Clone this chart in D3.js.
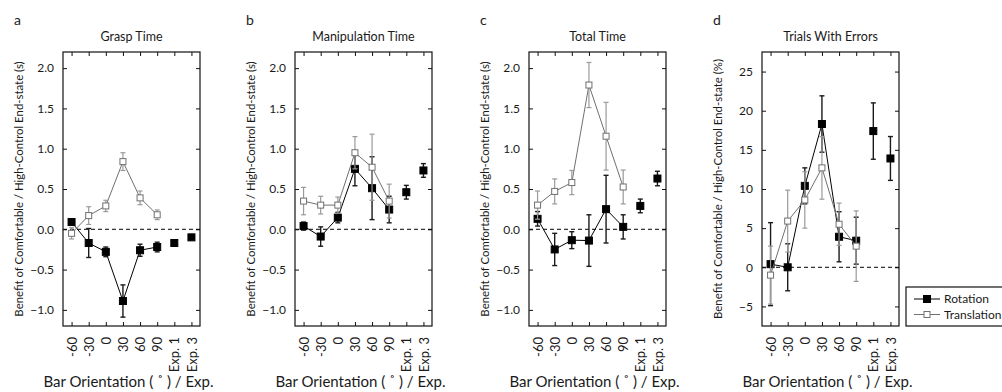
<!DOCTYPE html>
<html lang="en">
<head>
	<meta charset="utf-8">
	<title>Comfortable vs High-Control End-state</title>
	<script type="text/javascript" src="https://cdn.jsdelivr.net/npm/d3@7"></script>
	<style>
		body { margin: 0; background: white; }
		svg { display: block; overflow: hidden; }
		text { font-family: Lato, "Open Sans", sans-serif; font-weight: normal; fill: #1a1a1a; }
		.tick line { stroke: #111; }
	</style>
</head>

<body>
	<script type="text/javascript">
		var w = 1002;
		var h = 392;

		// x categories (bar orientation in degrees, then experiment)
		var categories = ["-60", "-30", "0", "30", "60", "90", "Exp. 1", "Exp. 3"];
		var timeTicks = [-1.0, -0.5, 0.0, 0.5, 1.0, 1.5, 2.0];
		var errorTicks = [-5, 0, 5, 10, 15, 20, 25];

		// a - grasp time
		var graspRot = [0.09, -0.17, -0.28, -0.89, -0.26, -0.22, -0.17, -0.10];
		var graspRotErr = [0.04, 0.18, 0.06, 0.20, 0.075, 0.06, 0.01, 0.01];
		var graspTrans = [-0.05, 0.17, 0.29, 0.84, 0.39, 0.18];
		var graspTransErr = [0.07, 0.11, 0.07, 0.11, 0.085, 0.06];

		// b - manipulation time
		var manipRot = [0.04, -0.09, 0.145, 0.75, 0.51, 0.245, 0.46, 0.73];
		var manipRotErr = [0.05, 0.12, 0.065, 0.21, 0.39, 0.165, 0.085, 0.085];
		var manipTrans = [0.35, 0.30, 0.30, 0.95, 0.77, 0.35];
		var manipTransErr = [0.17, 0.11, 0.10, 0.20, 0.41, 0.21];

		// c - total time
		var totalRot = [0.13, -0.25, -0.135, -0.14, 0.25, 0.03, 0.29, 0.63];
		var totalRotErr = [0.09, 0.20, 0.105, 0.32, 0.42, 0.15, 0.085, 0.09];
		var totalTrans = [0.30, 0.47, 0.58, 1.79, 1.155, 0.525];
		var totalTransErr = [0.175, 0.155, 0.15, 0.28, 0.42, 0.21];

		// d - trials with errors (%)
		var errRot = [0.4, 0.0, 10.4, 18.3, 3.9, 3.4, 17.4, 13.9];
		var errRotErr = [5.3, 3.0, 2.3, 3.6, 3.2, 3.0, 3.6, 2.8];
		var errTrans = [-1.0, 5.9, 8.6, 12.7, 5.5, 2.7];
		var errTransErr = [3.7, 3.95, 3.6, 4.0, 2.7, 4.5];

		var panels = [
			{ letter: "a", title: "Grasp Time", unit: "(s)", left: 63, domain: [-1.2, 2.2], ticks: timeTicks, fmt: d3.format(".1f"),
			  rot: graspRot, rotErr: graspRotErr, trans: graspTrans, transErr: graspTransErr },
			{ letter: "b", title: "Manipulation Time", unit: "(s)", left: 295, domain: [-1.2, 2.2], ticks: timeTicks, fmt: d3.format(".1f"),
			  rot: manipRot, rotErr: manipRotErr, trans: manipTrans, transErr: manipTransErr },
			{ letter: "c", title: "Total Time", unit: "(s)", left: 529, domain: [-1.2, 2.2], ticks: timeTicks, fmt: d3.format(".1f"),
			  rot: totalRot, rotErr: totalRotErr, trans: totalTrans, transErr: totalTransErr },
			{ letter: "d", title: "Trials With Errors", unit: "(%)", left: 762, domain: [-7.5, 27.5], ticks: errorTicks, fmt: d3.format("d"),
			  rot: errRot, rotErr: errRotErr, trans: errTrans, transErr: errTransErr }
		];

		var plotTop = 52;
		var pw = 137;
		var ph = 274;

		var rotColor = "#000";
		var transColor = "#707070";
		var transErrColor = "#9a9a9a";

		var svg = d3.select("body")
					.append("svg")
					.attr("width", w)
					.attr("height", h);

		var drawSeries = function(g, x, y, vals, errs, opts) {
			var pts = vals.map(function(v, i) { return { c: categories[i], v: v, e: errs[i], i: i }; });
			// only the six orientations are joined by a line
			var linePts = pts.filter(function(d) { return d.i < 6; });

			g.append("path")
			 .datum(linePts)
			 .attr("fill", "none")
			 .attr("stroke", opts.line)
			 .attr("stroke-width", 1)
			 .attr("d", d3.line().x(function(d) { return x(d.c); }).y(function(d) { return y(d.v); }));

			var eb = g.selectAll(null).data(pts).enter().append("g")
					  .attr("stroke", opts.err)
					  .attr("stroke-width", opts.errWidth);
			eb.append("line")
			  .attr("x1", function(d) { return x(d.c); }).attr("x2", function(d) { return x(d.c); })
			  .attr("y1", function(d) { return y(d.v - d.e); }).attr("y2", function(d) { return y(d.v + d.e); });
			eb.append("line")
			  .attr("x1", function(d) { return x(d.c) - 2.5; }).attr("x2", function(d) { return x(d.c) + 2.5; })
			  .attr("y1", function(d) { return y(d.v + d.e); }).attr("y2", function(d) { return y(d.v + d.e); });
			eb.append("line")
			  .attr("x1", function(d) { return x(d.c) - 2.5; }).attr("x2", function(d) { return x(d.c) + 2.5; })
			  .attr("y1", function(d) { return y(d.v - d.e); }).attr("y2", function(d) { return y(d.v - d.e); });

			g.selectAll(null).data(pts).enter().append("rect")
			 .attr("x", function(d) { return x(d.c) - opts.size / 2; })
			 .attr("y", function(d) { return y(d.v) - opts.size / 2; })
			 .attr("width", opts.size)
			 .attr("height", opts.size)
			 .attr("fill", opts.fill)
			 .attr("stroke", opts.stroke)
			 .attr("stroke-width", 1);
		};

		panels.forEach(function(p) {
			var g = svg.append("g").attr("transform", "translate(" + p.left + "," + plotTop + ")");

			var x = d3.scalePoint().domain(categories).range([0, pw]).padding(0.5);
			var y = d3.scaleLinear().domain(p.domain).range([ph, 0]);

			// axes, ticks point inward on all four sides
			var left = g.append("g")
						.call(d3.axisLeft(y).tickValues(p.ticks).tickSize(-4).tickPadding(9).tickFormat(p.fmt));
			left.selectAll("text").style("font-size", "12px");

			g.append("g").attr("transform", "translate(" + pw + ",0)")
			 .call(d3.axisRight(y).tickValues(p.ticks).tickSize(-4).tickFormat(""));

			g.append("g")
			 .call(d3.axisTop(x).tickSize(-4).tickFormat(""));

			var bottom = g.append("g").attr("transform", "translate(0," + ph + ")")
						  .call(d3.axisBottom(x).tickSize(-4));
			bottom.selectAll("text")
				  .attr("transform", "rotate(-90)")
				  .attr("x", -11).attr("y", 0)
				  .attr("dy", "0.35em")
				  .attr("text-anchor", "end")
				  .style("font-size", "13px");

			g.selectAll(".domain").remove();
			g.selectAll(".tick text").attr("fill", "#1a1a1a");

			// zero reference line
			g.append("line")
			 .attr("x1", 0).attr("x2", pw)
			 .attr("y1", y(0)).attr("y2", y(0))
			 .attr("stroke", "#000")
			 .attr("stroke-dasharray", "4,3");

			drawSeries(g, x, y, p.rot, p.rotErr,
				{ line: rotColor, err: "#1a1a1a", errWidth: 1.4, size: 7, fill: rotColor, stroke: rotColor });
			drawSeries(g, x, y, p.trans, p.transErr,
				{ line: transColor, err: transErrColor, errWidth: 1.2, size: 6, fill: "#fff", stroke: transColor });

			// frame
			g.append("rect")
			 .attr("width", pw).attr("height", ph)
			 .attr("fill", "none")
			 .attr("stroke", "#111")
			 .attr("stroke-width", 1.2);

			// labels
			g.append("text")
			 .attr("x", -49).attr("y", -27)
			 .style("font-size", "14px")
			 .text(p.letter);

			g.append("text")
			 .attr("x", pw / 2).attr("y", -11)
			 .attr("text-anchor", "middle")
			 .style("font-size", "12.5px")
			 .text(p.title);

			g.append("text")
			 .attr("transform", "translate(-44," + (ph / 2) + ") rotate(-90)")
			 .attr("dy", "0.35em")
			 .attr("text-anchor", "middle")
			 .style("font-size", "11.4px")
			 .text("Benefit of Comfortable / High-Control End-state " + p.unit);

			g.append("text")
			 .attr("x", pw / 2 - 3).attr("y", ph + 61)
			 .attr("text-anchor", "middle")
			 .style("font-size", "15px")
			 .text("Bar Orientation ( \u02DA ) / Exp.");
		});

		// legend
		var legend = svg.append("g").attr("transform", "translate(906,287)");
		legend.append("rect")
			  .attr("width", 120).attr("height", 39)
			  .attr("fill", "#fff").attr("stroke", "#111").attr("stroke-width", 1.2);

		var legendItems = [
			{ name: "Rotation", line: rotColor, fill: rotColor, size: 7 },
			{ name: "Translation", line: transColor, fill: "#fff", size: 6 }
		];
		legendItems.forEach(function(d, i) {
			var ly = 12 + i * 15.5;
			legend.append("line")
				  .attr("x1", 8).attr("x2", 34).attr("y1", ly).attr("y2", ly)
				  .attr("stroke", d.line);
			legend.append("rect")
				  .attr("x", 21 - d.size / 2).attr("y", ly - d.size / 2)
				  .attr("width", d.size).attr("height", d.size)
				  .attr("fill", d.fill).attr("stroke", d.line);
			legend.append("text")
				  .attr("x", 38).attr("y", ly)
				  .attr("dy", "0.35em")
				  .style("font-size", "12px")
				  .text(d.name);
		});
	</script>
</body>
</html>
